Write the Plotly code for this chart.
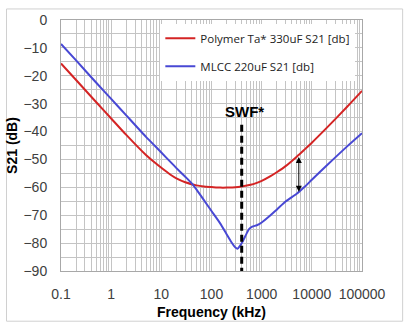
import numpy as np
import plotly.graph_objects as go

# ---- data ----
freq_ta = [0.1, 0.2, 0.5, 1, 2, 5, 7.5, 10, 15, 20, 30, 50, 70, 100, 150, 200, 300, 400,
           600, 800, 1000, 1500, 2000, 3000, 5000, 7000, 10000, 20000, 50000, 100000]
s21_ta = [-15.6, -21.5, -29.4, -35.3, -41.2, -48.5, -51.2, -53.0, -55.4, -56.8, -58.2, -59.3,
          -59.7, -59.9, -60.1, -60.1, -60.0, -59.7, -59.1, -58.4, -57.7, -56.0, -54.6, -52.4,
          -49.0, -46.6, -44.0, -38.6, -31.2, -25.4]

freq_mlcc = [0.1, 0.2, 0.5, 1, 2, 5, 7.5, 10, 15, 20, 30, 40, 50, 70, 100, 150, 200, 250, 300,
             330, 370, 420, 500, 560, 650, 800, 1000, 1500, 2000, 3000, 5000, 7000, 10000,
             20000, 50000, 100000]
s21_mlcc = [-8.6, -14.5, -22.4, -28.3, -34.2, -42.0, -45.2, -47.5, -50.8, -53.1, -56.2, -58.5,
            -60.7, -64.5, -68.5, -73.0, -76.8, -79.7, -81.6, -82.0, -81.0, -79.3, -76.6, -75.0,
            -74.1, -73.6, -72.6, -70.0, -68.0, -65.1, -62.3, -60.0, -57.3, -52.1, -45.4, -40.6]

name_ta = "Polymer Ta* 330uF S21 [db]"
name_mlcc = "MLCC 220uF S21 [db]"

swf_freq = 400
swf_top = -37.6
arrow_freq = 5500
arrow_top = -48.6
arrow_bottom = -61.6

x_major = [0.1, 1, 10, 100, 1000, 10000, 100000]
x_labels = ["0.1", "1", "10", "100", "1000", "10000", "100000"]

# grid values (every 1..9 per decade)
x_grid = [m * d for d in [0.1, 1, 10, 100, 1000, 10000] for m in range(1, 10)] + [100000]
x_grid_text = [x_labels[x_major.index(v)] if v in x_major else "" for v in x_grid]

RED = "#d42424"
BLUE = "#4848d4"
GRID = "#c4c4c4"

fig = go.Figure()
fig.add_trace(go.Scatter(x=freq_ta, y=s21_ta, mode="lines", name=name_ta,
                         line=dict(color=RED, width=2, shape="spline", smoothing=0.6),
                         legendgroup="a"))
fig.add_trace(go.Scatter(x=freq_mlcc, y=s21_mlcc, mode="lines", name=name_mlcc,
                         line=dict(color=BLUE, width=2, shape="spline", smoothing=0.6),
                         legendgroup="b"))
# SWF dashed line
fig.add_trace(go.Scatter(x=[swf_freq, swf_freq], y=[swf_top, -90], mode="lines",
                         line=dict(color="black", width=3, dash="7px,4px"),
                         showlegend=False, hoverinfo="skip"))

fig.add_annotation(x=np.log10(swf_freq), y=swf_top, xref="x", yref="y", text="<b>SWF*</b>",
                   showarrow=False, yanchor="bottom", xshift=3, yshift=3,
                   font=dict(family="Liberation Sans", size=15, color="black"))

fig.add_annotation(x=np.log10(arrow_freq), y=arrow_bottom, ax=np.log10(arrow_freq), ay=arrow_top,
                   xref="x", yref="y", axref="x", ayref="y", text="", showarrow=True,
                   arrowhead=2, arrowside="end+start", arrowsize=1.2, arrowwidth=1,
                   arrowcolor="black")

# outer border
fig.add_shape(type="rect", xref="paper", yref="paper", x0=-0.181, x1=1.135, y0=-0.2, y1=1.044,
              line=dict(color="#d0d0d0", width=1), fillcolor="rgba(0,0,0,0)", layer="below")

fig.update_layout(
    width=412, height=330,
    margin=dict(l=61, r=50, t=17, b=57),
    paper_bgcolor="white", plot_bgcolor="white",
    font=dict(family="Liberation Sans", size=14, color="#404040"),
    showlegend=True,
    legend=dict(x=0.33, y=0.985, xanchor="left", yanchor="top",
                bgcolor="white", borderwidth=0,
                font=dict(family="Open Sans", size=11.5, color="#222222"),
                tracegroupgap=9, traceorder="grouped", itemwidth=30),
)
fig.update_xaxes(type="log", range=[-1, 5], tickmode="array", tickvals=x_grid,
                 ticktext=x_grid_text, showgrid=True, gridcolor=GRID, gridwidth=1,
                 showline=True, linecolor="#a8a8a8", mirror=True, ticks="",
                 ticklabelstandoff=10, zeroline=False,
                 title=dict(text="<b>Frequency (kHz)</b>", standoff=6,
                            font=dict(family="Liberation Sans", size=14, color="black")))
fig.update_yaxes(range=[-90, 0], dtick=10, showgrid=True, gridcolor=GRID, gridwidth=1,
                 minor=dict(dtick=5, showgrid=True, gridcolor=GRID),
                 showline=True, linecolor="#a8a8a8", mirror=True, ticks="",
                 ticklabelstandoff=10, zeroline=False,
                 title=dict(text="<b>S21 (dB)</b>", standoff=2,
                            font=dict(family="Liberation Sans", size=14, color="black")))

fig.write_html("out.html")
